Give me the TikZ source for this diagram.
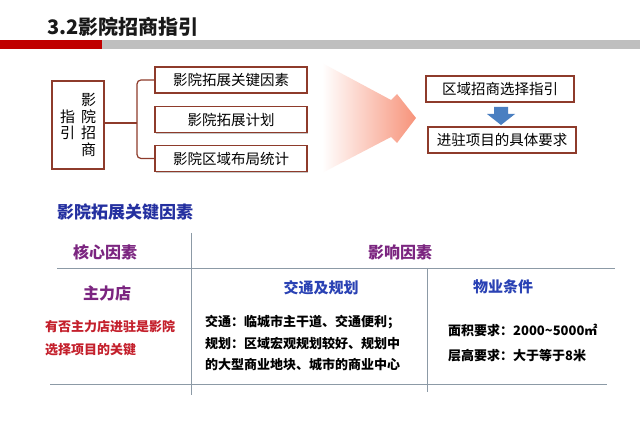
\documentclass[tikz,border=0pt]{standalone}
\usepackage{fontspec}
\setmainfont{Noto Sans CJK SC}
\usetikzlibrary{calc,positioning,shadows}
\definecolor{barred}{HTML}{C00000}
\definecolor{bargray}{HTML}{BFBFBF}
\definecolor{boxred}{HTML}{8E3B2B}
\definecolor{headblue}{HTML}{2430A0}
\definecolor{subblue}{HTML}{2A42B4}
\definecolor{purp}{HTML}{7B2580}
\definecolor{txtred}{HTML}{C4202C}
\definecolor{rulegray}{HTML}{8C9AA6}
\definecolor{arrblue}{HTML}{4A7FC1}
\definecolor{salmon}{HTML}{F7937A}
\tikzset{
  gbox/.style={
    draw=boxred,
    line width=1.3pt,
    minimum width=152pt,
    minimum height=26pt,
    inner sep=0pt,
    fill=white,
    font=\fontsize{14.5}{16}\selectfont,
    drop shadow={shadow xshift=1.2pt, shadow yshift=-1.2pt, opacity=.22, fill=black}
  },
  rbox/.style={gbox, minimum width=148pt},
  brace/.style={draw=boxred, line width=1.2pt, rounded corners=4pt},
  vtxt/.style={font=\fontsize{15}{16.5}\selectfont, align=center, inner sep=0pt},
  hd/.style={font=\bfseries\fontsize{16}{18}\selectfont, text=purp, inner sep=0pt},
  sub/.style={font=\bfseries\fontsize{15}{17}\selectfont, text=subblue, inner sep=0pt},
  body/.style={font=\bfseries\fontsize{13}{21.5}\selectfont, align=left, anchor=west, inner sep=0pt},
  rule/.style={draw=rulegray, line width=0.6pt},
}
\begin{document}
\begin{tikzpicture}[x=1pt, y=-1pt]
  \useasboundingbox[fill=white] (0,0) rectangle (640,443);
  % title and bar
  \node[font=\bfseries\fontsize{20}{22}\selectfont, text=black!90, anchor=west, inner sep=0pt] (title) at (47,27) {3.2影院招商指引};
  \fill[barred] (0,40) rectangle (102,49);
  \fill[bargray] (102,40) rectangle (640,49);

  % left part
  \node[draw=boxred, line width=1.3pt, minimum width=52pt, minimum height=88pt, inner sep=0pt] (lbox) at (78,125) {};
  \node[vtxt] (lcolA) at (88.5,125) {影\\院\\招\\商};
  \node[vtxt] (lcolB) at (67.5,125) {指\\引};
  \foreach \t/\y [count=\i] in {影院拓展关键因素/80, 影院拓展计划/119.5, 影院区域布局统计/158.5} {
    \node[gbox] (L\i) at (231,\y) {\t};
  }
  \coordinate (hub) at (137,123);
  \draw[brace] (L1.west) -| (hub) |- (L3.west);
  \draw[brace, rounded corners=0pt] (lbox.east |- hub) -- (hub);

  % big arrow
  \shade[left color=white, right color=salmon] (322,63) -- (391,100) -- (397,94) -- (416,118)
    -- (397,143) -- (391,137) -- (322,173) -- cycle;

  % right part
  \node[rbox] (RA) at (500,89) {区域招商选择指引};
  \node[rbox] (RB) at (502,140) {进驻项目的具体要求};
  \coordinate (dn) at ($(RA.south)!0.5!(RB.north)$);
  \fill[arrblue] ($(dn)+(-7,-7.5)$) -- ++(14,0) -- ++(0,7) -- ++(7,0) -- ++(-14,11)
    -- ++(-14,-11) -- ++(7,0) -- cycle;

  % table
  \node[font=\bfseries\fontsize{17}{19}\selectfont, text=headblue, anchor=west, inner sep=0pt] (ktitle) at (57,212) {影院拓展关键因素};
  \draw[rule] (191,233) -- (191,395);
  \draw[rule] (427,268) -- (427,392);
  \draw[rule] (57,268) -- (615,268);
  \draw[rule] (50,384) -- (607,384);
  \node[hd] (core) at (105,252) {核心因素};
  \node[hd] (infl) at (400,252) {影响因素};
  \node[hd] (anchor) at (107,293) {主力店};
  \node[body, text=txtred, font=\bfseries\fontsize{13}{23}\selectfont] (anchortxt) at (45,338.5) {有否主力店进驻是影院\\选择项目的关键};
  \node[sub] (traffic) at (321,288) {交通及规划};
  \node[body] (traffictxt) at (205,343.5) {交通：临城市主干道、交通便利；\\规划：区域宏观规划较好、规划中\\的大型商业地块、城市的商业中心};
  \node[sub] (prop) at (503,287) {物业条件};
  \node[body, font=\bfseries\fontsize{13}{25}\selectfont] (proptxt) at (448,342.5) {面积要求：2000\textasciitilde5000㎡\\层高要求：大于等于8米};
\end{tikzpicture}
\end{document}
